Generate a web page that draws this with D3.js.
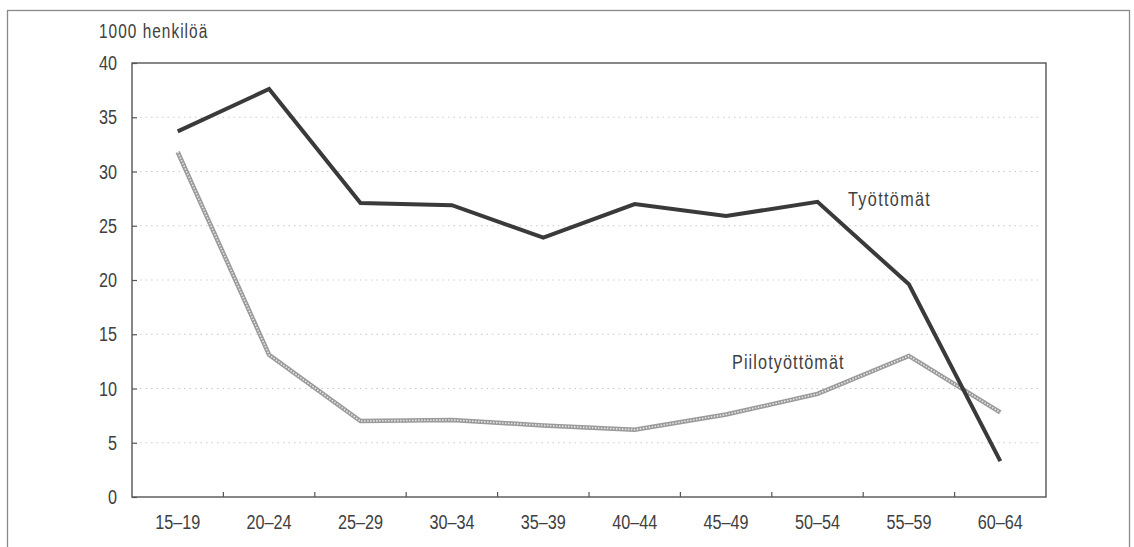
<!DOCTYPE html>
<html>
<head>
<meta charset="utf-8">
<script src="https://cdn.jsdelivr.net/npm/d3@7"></script>
<style>
  body { margin: 0; background: #fff; }
  svg text { font-family: "Liberation Sans", Arial, sans-serif; fill: #404040; }
</style>
</head>
<body>
<svg id="chart" width="1134" height="547"></svg>
<script>
// age groups
const ages = ["15–19", "20–24", "25–29", "30–34", "35–39", "40–44", "45–49", "50–54", "55–59", "60–64"];
// thousands of persons
const tyottomat = [33.7, 37.6, 27.1, 26.9, 23.9, 27.0, 25.9, 27.2, 19.6, 3.3];
const piilotyottomat = [31.8, 13.1, 7.0, 7.1, 6.6, 6.2, 7.6, 9.5, 13.0, 7.8];
const yTicks = [0, 5, 10, 15, 20, 25, 30, 35, 40];

const margin = { top: 63, right: 88, bottom: 50, left: 132 };
const W = 1134, H = 547;
const w = W - margin.left - margin.right;
const h = H - margin.top - margin.bottom;
const squeeze = 0.79; // condensed look, no narrow font installed
const fs = "20.5px";

const svg = d3.select("#chart");

// outer frame
svg.append("rect")
    .attr("x", 7.5).attr("y", 10.5)
    .attr("width", 1122).attr("height", 545)
    .attr("fill", "none")
    .attr("stroke", "#8a8a8a")
    .attr("stroke-width", 1.3);

const g = svg.append("g")
    .attr("transform", `translate(${margin.left},${margin.top})`);

const x = d3.scaleBand().domain(ages).range([0, w]);
const y = d3.scaleLinear().domain([0, 40]).range([h, 0]);

// dotted grid
g.selectAll("line.grid")
    .data(yTicks.filter(d => d > 0 && d < 40))
    .enter()
    .append("line")
    .attr("class", "grid")
    .attr("x1", 8).attr("x2", w - 6)
    .attr("y1", d => y(d)).attr("y2", d => y(d))
    .attr("stroke", "#cacaca")
    .attr("stroke-width", 1)
    .attr("stroke-dasharray", "1.5,4");

// y axis, ticks pointing inside
const yAxis = g.append("g")
    .call(d3.axisLeft(y).tickValues(yTicks).tickSizeInner(-5).tickSizeOuter(0).tickPadding(0));
yAxis.select(".domain").remove();
yAxis.selectAll(".tick line").attr("stroke", "#555").attr("stroke-width", 1.2);
yAxis.selectAll(".tick text")
    .attr("x", null)
    .attr("transform", `translate(-15,0) scale(${squeeze},1)`)
    .style("font-size", fs);

// x axis: ticks at band boundaries, pointing up
const xAxis = g.append("g")
    .attr("transform", `translate(0,${h})`)
    .call(d3.axisBottom(x).tickSize(0).tickPadding(17));
xAxis.select(".domain").remove();
xAxis.selectAll(".tick text")
    .attr("transform", `scale(${squeeze},1)`)
    .style("font-size", fs);

g.selectAll("line.xtick")
    .data(ages.slice(1))
    .enter()
    .append("line")
    .attr("class", "xtick")
    .attr("x1", d => x(d)).attr("x2", d => x(d))
    .attr("y1", h).attr("y2", h - 5)
    .attr("stroke", "#555")
    .attr("stroke-width", 1.2);

// plot frame
g.append("rect")
    .attr("width", w).attr("height", h)
    .attr("fill", "none")
    .attr("stroke", "#555")
    .attr("stroke-width", 1.4);

const line = d3.line()
    .x((d, i) => x(ages[i]) + x.bandwidth() / 2)
    .y(d => y(d));

// hidden unemployed: grey textured line
g.append("path")
    .datum(piilotyottomat)
    .attr("d", line)
    .attr("fill", "none")
    .attr("stroke", "#9a9a9a")
    .attr("stroke-width", 4.5);
g.append("path")
    .datum(piilotyottomat)
    .attr("d", line)
    .attr("fill", "none")
    .attr("stroke", "#e8e8e8")
    .attr("stroke-width", 1.6)
    .attr("stroke-dasharray", "1.5,1.5");

// unemployed
g.append("path")
    .datum(tyottomat)
    .attr("d", line)
    .attr("fill", "none")
    .attr("stroke", "#3a3a3a")
    .attr("stroke-width", 4)
    .attr("stroke-linejoin", "miter");

// series labels
g.append("text")
    .attr("transform", `translate(${848 - margin.left},${206 - margin.top}) scale(${squeeze},1)`)
    .style("font-size", fs)
    .style("letter-spacing", "1.7px")
    .text("Työttömät");
g.append("text")
    .attr("transform", `translate(${732 - margin.left},${369 - margin.top}) scale(${squeeze},1)`)
    .style("font-size", fs)
    .style("letter-spacing", "1.4px")
    .text("Piilotyöttömät");

// unit label
svg.append("text")
    .attr("transform", `translate(99,38) scale(${squeeze},1)`)
    .style("font-size", "19.5px")
    .style("letter-spacing", "1.3px")
    .text("1000 henkilöä");
</script>
</body>
</html>
